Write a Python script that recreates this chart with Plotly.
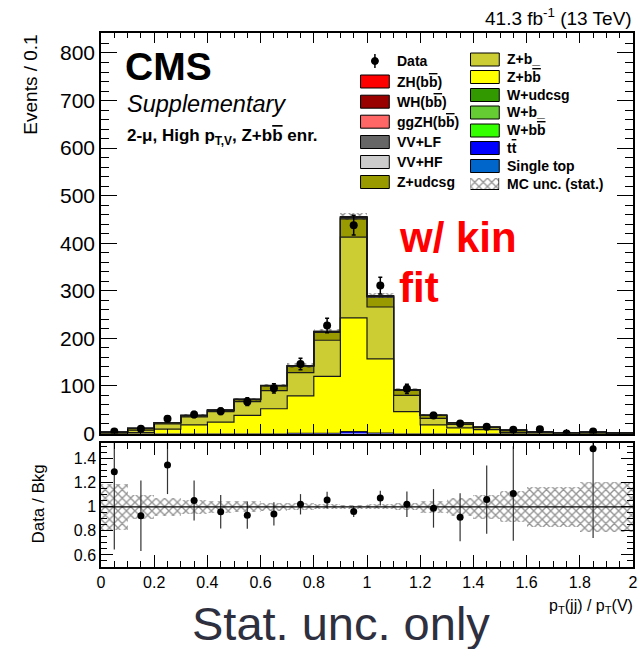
import numpy as np
import plotly.graph_objects as go

# ---------------- data ----------------
bin_low = [0.0, 0.1, 0.2, 0.3, 0.4, 0.5, 0.6, 0.7, 0.8, 0.9,
           1.0, 1.1, 1.2, 1.3, 1.4, 1.5, 1.6, 1.7, 1.8, 1.9]
bin_width = 0.1

single_top = [0]*20
ttbar      = [0, 0, 0, 0, 0, 0, 0, 0.1, 0.3, 4.0, 0.8, 0, 0, 0, 0, 0, 0, 0, 0, 0]
w_bb       = [0]*20
w_b        = [0]*20
w_udcsg    = [0]*20
z_bb       = [0.5, 2, 9, 18, 24, 38, 52, 78.9, 119.7, 239, 156.2, 46, 18, 12, 8, 1.0, 1.3, 0.5, 0.8, 0.4]
z_b        = [1, 5, 11, 17, 22, 29, 38, 49, 76, 170, 109, 34, 14, 7, 4.5, 1.5, 1.2, 0.6, 1.0, 0.3]
z_udcsg    = [1.6, 3.8, 2.8, 2.7, 2.6, 4.4, 10, 13.4, 16.6, 38.2, 20.8, 10.8, 6, 3.8, 0.5, 4.7, 1.0, 0.7, 0.9, 0.5]
vv_hf      = [0, 0, 0.1, 0.1, 0.2, 0.3, 0.5, 0.7, 1.0, 2.0, 1.3, 0.5, 0.2, 0.1, 0.1, 0, 0, 0, 0, 0]
vv_lf      = [0, 0, 0.1, 0.2, 0.2, 0.3, 0.4, 0.6, 0.8, 1.5, 1.0, 0.4, 0.2, 0.1, 0.1, 0, 0, 0, 0, 0]
ggzh       = [0, 0, 0, 0, 0, 0, 0, 0.1, 0.2, 0.4, 0.3, 0.1, 0, 0, 0, 0, 0, 0, 0, 0]
wh         = [0]*20
zh         = [0, 0, 0, 0, 0, 0, 0.1, 0.2, 0.4, 0.9, 0.6, 0.2, 0.1, 0, 0, 0, 0, 0, 0, 0]

data_counts = [4, 10, 31, 40, 47, 67, 95, 146, 227, 438, 311, 94, 38, 21, 14, 8, 9, 0, 4, None]
mc_rel_unc  = [0.19, 0.10, 0.075, 0.06, 0.05, 0.045, 0.035, 0.03, 0.02, 0.015,
               0.02, 0.03, 0.05, 0.075, 0.10, 0.13, 0.165, 0.165, 0.21, 0.21]

# stack order bottom -> top
components = [
    ("Single top", single_top, "#0066cc"),
    ("tt", ttbar, "#0000ff"),
    ("W+bb", w_bb, "#33ff00"),
    ("W+b", w_b, "#66cc33"),
    ("W+udcsg", w_udcsg, "#339900"),
    ("Z+bb", z_bb, "#ffff00"),
    ("Z+b", z_b, "#cccc33"),
    ("Z+udcsg", z_udcsg, "#999900"),
    ("VV+HF", vv_hf, "#cccccc"),
    ("VV+LF", vv_lf, "#666666"),
    ("ggZH", ggzh, "#ff6666"),
    ("WH", wh, "#990000"),
    ("ZH", zh, "#ff0000"),
]

# ---------------- geometry helpers ----------------
W, H = 644, 649
L, R, T, B = 101, 638, 33, 567
def px(x):
    return (x - L) / (R - L)
def py(y):
    return (B - y) / (B - T)

FONT = "Liberation Sans, Arial, Helvetica, sans-serif"
OV = "<span style='text-decoration:overline'>%s</span>"

centers = [round(b + bin_width / 2, 3) for b in bin_low]
edges_x = bin_low + [bin_low[-1] + bin_width]

fig = go.Figure()

cum = np.zeros(len(bin_low))
tops = []
for name, vals, col in components:
    v = np.array(vals, dtype=float)
    fig.add_trace(go.Bar(x=centers, y=v, base=cum.copy(), width=bin_width,
                         marker=dict(color=col, line=dict(width=0)), opacity=1,
                         xaxis="x", yaxis="y", showlegend=False, hoverinfo="skip"))
    cum = cum + v
    if v.sum() > 0:
        tops.append(cum.copy())

mc_total = cum.copy()
unc_abs = mc_total * np.array(mc_rel_unc)

# step outlines
for t in tops:
    fig.add_trace(go.Scatter(x=edges_x, y=list(t) + [t[-1]], mode="lines",
                             line=dict(color="#1a1a1a", width=1.2, shape="hv"),
                             xaxis="x", yaxis="y", showlegend=False, hoverinfo="skip"))

pattern = dict(shape="x", fgcolor="#2a2a2a", bgcolor="rgba(0,0,0,0)", size=6, solidity=0.4, fillmode="overlay")
# MC stat unc band main
fig.add_trace(go.Bar(x=centers, y=2 * unc_abs, base=mc_total - unc_abs, width=bin_width,
                     marker=dict(color="rgba(0,0,0,0)", line=dict(width=0), pattern=pattern),
                     xaxis="x", yaxis="y", showlegend=False, hoverinfo="skip"))

# data points main
dx, dy, de = [], [], []
for c, n in zip(centers, data_counts):
    if n is None:
        continue
    dx.append(c); dy.append(n); de.append(np.sqrt(n))
fig.add_trace(go.Scatter(x=dx, y=dy, mode="markers",
                         marker=dict(color="black", size=8),
                         error_y=dict(type="data", array=de, color="black", thickness=1.5, width=2),
                         xaxis="x", yaxis="y", showlegend=False, hoverinfo="skip"))

# ratio band
rel = np.array(mc_rel_unc)
fig.add_trace(go.Bar(x=centers, y=2 * rel, base=1 - rel, width=bin_width,
                     marker=dict(color="rgba(0,0,0,0)", line=dict(width=0), pattern=pattern),
                     xaxis="x2", yaxis="y2", showlegend=False, hoverinfo="skip"))

# ratio points
rx, ry, re_ = [], [], []
for c, n, m in zip(centers, data_counts, mc_total):
    if n is None or n == 0:
        continue
    rx.append(c); ry.append(n / m); re_.append(np.sqrt(n) / m)
fig.add_trace(go.Scatter(x=rx, y=ry, mode="markers",
                         marker=dict(color="black", size=7),
                         error_y=dict(type="data", array=re_, color="#333333", thickness=1.2, width=0),
                         xaxis="x2", yaxis="y2", showlegend=False, hoverinfo="skip"))

# legend hatch swatch (separate tiny axes)
fig.add_trace(go.Bar(x=[0.5], y=[1], width=1,
                     marker=dict(color="rgba(0,0,0,0)", line=dict(color="black", width=1), pattern=pattern),
                     xaxis="x3", yaxis="y3", showlegend=False, hoverinfo="skip"))

axis_common = dict(showgrid=False, zeroline=False, linecolor="black", linewidth=1.5,
                   mirror="allticks", ticks="inside", tickcolor="black", tickwidth=1.2,
                   tickfont=dict(family=FONT, size=16, color="black"))

fig.update_layout(
    width=W, height=H, margin=dict(l=L, r=W - R, t=T, b=H - B),
    paper_bgcolor="white", plot_bgcolor="white", barmode="overlay", bargap=0,
    showlegend=False,
    xaxis=dict(axis_common, domain=[0, 1], range=[0, 2], anchor="y", showticklabels=False,
               tick0=0, dtick=0.2, ticklen=10,
               minor=dict(dtick=0.05, ticklen=5, ticks="inside", tickcolor="black")),
    yaxis=dict(axis_common, domain=[py(433.5), 1], range=[0, 842], anchor="x",
               tick0=0, dtick=100, ticklen=16, tickfont=dict(family=FONT, size=21, color="black"),
               minor=dict(dtick=20, ticklen=8, ticks="inside", tickcolor="black")),
    xaxis2=dict(axis_common, domain=[0, 1], range=[0, 2], anchor="y2",
                tick0=0, dtick=0.2, ticklen=12,
                minor=dict(dtick=0.05, ticklen=6, ticks="inside", tickcolor="black")),
    yaxis2=dict(axis_common, domain=[0, py(443)], range=[0.5, 1.53], anchor="x2",
                tick0=0, dtick=0.2, ticklen=12,
                minor=dict(dtick=0.05, ticklen=6, ticks="inside", tickcolor="black")),
    xaxis3=dict(domain=[px(474), px(503)], range=[0, 1], anchor="y3", visible=False, fixedrange=True),
    yaxis3=dict(domain=[py(190), py(178)], range=[0, 1], anchor="x3", visible=False, fixedrange=True),
)

shapes = []
# ratio line at 1
shapes.append(dict(type="line", xref="x2", yref="y2", x0=0, x1=2, y0=1, y1=1,
                   line=dict(color="black", width=1.2)))

annotations = []
def ann(text, x, y, size, xanchor="left", yanchor="middle", color="black", angle=0, **kw):
    annotations.append(dict(text=text, x=px(x), y=py(y), xref="paper", yref="paper",
                            xanchor=xanchor, yanchor=yanchor, showarrow=False, textangle=angle,
                            font=dict(family=FONT, size=size, color=color), **kw))

ann("<b>CMS</b>", 123, 66, 39)
ann("<i>Supplementary</i>", 125, 104, 23.5)
ann("<b>2-μ, High p<sub>T,V</sub>, Z+b" + OV % "b" + " enr.</b>", 125, 137, 17)
ann("41.3 fb<sup>-1</sup> (13 TeV)", 639, 17, 19, xanchor="right")
ann("<b>w/ kin</b>", 400, 237, 42, color="#ff0000")
ann("<b>fit</b>", 400, 287, 42, color="#ff0000")
ann("Stat. unc. only", 343, 623, 47, xanchor="center", color="#2e3040")
ann("Events / 0.1", 29, 85, 19, xanchor="center", angle=-90)
ann("Data / Bkg", 37, 504, 17, xanchor="center", angle=-90)
ann("p<sub>T</sub>(jj) / p<sub>T</sub>(V)", 640, 606, 16, xanchor="right")

# legends
col1 = [("ZH(b" + OV % "b" + ")", "#ff0000"), ("WH(b" + OV % "b" + ")", "#990000"),
        ("ggZH(b" + OV % "b" + ")", "#ff6666"),
        ("VV+LF", "#666666"), ("VV+HF", "#cccccc"), ("Z+udcsg", "#999900")]
col1_y = [81.5, 101.7, 121.7, 142, 162, 182]
col2 = [("Z+b_", "#cccc33"), ("Z+b" + OV % "b", "#ffff00"), ("W+udcsg", "#339900"), ("W+b_", "#66cc33"),
        ("W+b" + OV % "b", "#33ff00"), ("t" + OV % "t", "#0000ff"), ("Single top", "#0066cc")]
col2_y = [59.5, 77, 95, 112.5, 130.5, 148, 166]

for (lab, col), yc in zip(col1, col1_y):
    shapes.append(dict(type="rect", xref="paper", yref="paper", x0=px(363), x1=px(392),
                       y0=py(yc + 6.5), y1=py(yc - 6.5), fillcolor=col, line=dict(color="black", width=1)))
    ann("<b>%s</b>" % lab, 398, yc, 14)
for (lab, col), yc in zip(col2, col2_y):
    shapes.append(dict(type="rect", xref="paper", yref="paper", x0=px(474), x1=px(503),
                       y0=py(yc + 6.5), y1=py(yc - 6.5), fillcolor=col, line=dict(color="black", width=1)))
    ann("<b>%s</b>" % lab, 509, yc, 14)
ann("<b>MC unc. (stat.)</b>", 509, 184, 14)
ann("<b>Data</b>", 398, 61, 14)
# data legend glyph
shapes.append(dict(type="line", xref="paper", yref="paper", x0=px(377.5), x1=px(377.5),
                   y0=py(54), y1=py(68), line=dict(color="black", width=1.5)))
shapes.append(dict(type="circle", xref="paper", yref="paper", x0=px(374), x1=px(381),
                   y0=py(64.5), y1=py(57.5), fillcolor="black", line=dict(color="black", width=1)))

fig.update_layout(shapes=shapes, annotations=annotations)
fig.write_html("out.html")
